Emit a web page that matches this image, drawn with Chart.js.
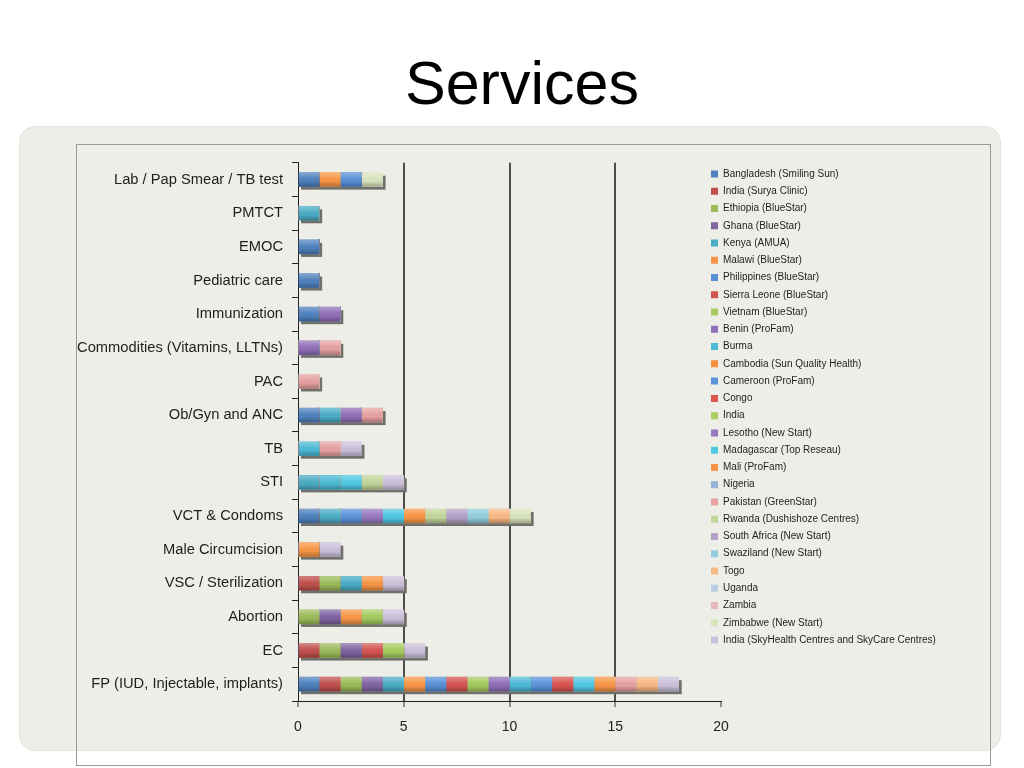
<!DOCTYPE html>
<html>
<head>
<meta charset="utf-8">
<script src="https://cdn.jsdelivr.net/npm/chart.js@4"></script>
<style>
  html, body { margin: 0; padding: 0; background: #ffffff; }
  body { width: 1024px; height: 768px; position: relative; overflow: hidden; font-family: "Liberation Sans", Arial, sans-serif; }
  #title { position: absolute; left: 405px; top: 53px; font-size: 61px; line-height: 1; color: #000; white-space: nowrap; }
  #panel { position: absolute; left: 19px; top: 126px; width: 982px; height: 625px; box-sizing: border-box;
           border-radius: 16px; background: #EDEEE7; border: 1px solid #E3E5DC; }
  #frame { position: absolute; left: 76px; top: 144px; width: 915px; height: 622px; box-sizing: border-box;
           border: 1px solid #9A9A92; }
  #chart { position: absolute; left: 77px; top: 145px; }
</style>
</head>
<body>
<div id="title">Services</div>
<div id="panel"></div>
<div id="frame"></div>
<canvas id="chart" width="913" height="620" style="width:913px;height:620px"></canvas>
<script>
// Categories (top to bottom)
const categories = [
  "Lab / Pap Smear / TB test",
  "PMTCT",
  "EMOC",
  "Pediatric care",
  "Immunization",
  "Commodities (Vitamins, LLTNs)",
  "PAC",
  "Ob/Gyn and ANC",
  "TB",
  "STI",
  "VCT & Condoms",
  "Male Circumcision",
  "VSC / Sterilization",
  "Abortion",
  "EC",
  "FP (IUD, Injectable, implants)"
];

// Series (programs / countries)
const seriesNames = [
  "Bangladesh (Smiling Sun)",
  "India (Surya Clinic)",
  "Ethiopia (BlueStar)",
  "Ghana (BlueStar)",
  "Kenya (AMUA)",
  "Malawi (BlueStar)",
  "Philippines (BlueStar)",
  "Sierra Leone (BlueStar)",
  "Vietnam (BlueStar)",
  "Benin (ProFam)",
  "Burma",
  "Cambodia (Sun Quality Health)",
  "Cameroon (ProFam)",
  "Congo",
  "India",
  "Lesotho (New Start)",
  "Madagascar (Top Reseau)",
  "Mali (ProFam)",
  "Nigeria",
  "Pakistan (GreenStar)",
  "Rwanda (Dushishoze Centres)",
  "South Africa (New Start)",
  "Swaziland (New Start)",
  "Togo",
  "Uganda",
  "Zambia",
  "Zimbabwe (New Start)",
  "India (SkyHealth Centres and SkyCare Centres)"
];

// Values per series, one entry per category (same order as categories)
const seriesValues = [
  [1,0,1,1,1,0,0,1,0,0,1,0,0,0,0,1], // Bangladesh
  [0,0,0,0,0,0,0,0,0,0,0,0,1,0,1,1], // India (Surya)
  [0,0,0,0,0,0,0,0,0,0,0,0,1,1,1,1], // Ethiopia
  [0,0,0,0,0,0,0,0,0,0,0,0,0,1,1,1], // Ghana
  [0,1,0,0,0,0,0,1,0,1,1,0,1,0,0,1], // Kenya
  [1,0,0,0,0,0,0,0,0,0,0,1,1,1,0,1], // Malawi
  [1,0,0,0,0,0,0,0,0,0,0,0,0,0,0,1], // Philippines
  [0,0,0,0,0,0,0,0,0,0,0,0,0,0,1,1], // Sierra Leone
  [0,0,0,0,0,0,0,0,0,0,0,0,0,1,1,1], // Vietnam
  [0,0,0,0,1,1,0,1,0,0,0,0,0,0,0,1], // Benin
  [0,0,0,0,0,0,0,0,1,1,0,0,0,0,0,1], // Burma
  [0,0,0,0,0,0,0,0,0,0,0,0,0,0,0,0], // Cambodia
  [0,0,0,0,0,0,0,0,0,0,1,0,0,0,0,1], // Cameroon
  [0,0,0,0,0,0,0,0,0,0,0,0,0,0,0,1], // Congo
  [0,0,0,0,0,0,0,0,0,0,0,0,0,0,0,0], // India
  [0,0,0,0,0,0,0,0,0,0,1,0,0,0,0,0], // Lesotho
  [0,0,0,0,0,0,0,0,0,1,1,0,0,0,0,1], // Madagascar
  [0,0,0,0,0,0,0,0,0,0,1,0,0,0,0,1], // Mali
  [0,0,0,0,0,0,0,0,0,0,0,0,0,0,0,0], // Nigeria
  [0,0,0,0,0,1,1,1,1,0,0,0,0,0,0,1], // Pakistan
  [0,0,0,0,0,0,0,0,0,1,1,0,0,0,0,0], // Rwanda
  [0,0,0,0,0,0,0,0,0,0,1,0,0,0,0,0], // South Africa
  [0,0,0,0,0,0,0,0,0,0,1,0,0,0,0,0], // Swaziland
  [0,0,0,0,0,0,0,0,0,0,1,0,0,0,0,1], // Togo
  [0,0,0,0,0,0,0,0,0,0,0,0,0,0,0,0], // Uganda
  [0,0,0,0,0,0,0,0,0,0,0,0,0,0,0,0], // Zambia
  [1,0,0,0,0,0,0,0,0,0,1,0,0,0,0,0], // Zimbabwe
  [0,0,0,0,0,0,0,0,1,1,0,1,1,1,1,1]  // India (SkyHealth)
];

// X-axis tick values
const xTicks = [0, 5, 10, 15, 20];

const seriesColors = [
  "#4F81BD","#C0504D","#9BBB59","#8064A2","#4BACC6","#F79646",
  "#5790D6","#D45451","#A5CB60","#916FB8","#4DBAD6","#F78F3E",
  "#5A94DA","#DA5450","#A8D060","#9878C0","#52C8E2","#F79646",
  "#95B3D7","#E6A1A0","#C3D69B","#B3A2C7","#93CDDD","#F8B883",
  "#B9CDE5","#E6B9B8","#D7E4BD","#CCC1DA"
];

const datasets = seriesNames.map((name, i) => ({
  label: name,
  data: seriesValues[i],
  backgroundColor: seriesColors[i],
  borderWidth: 0,
  barThickness: 14,
  stack: "s"
}));

const barShadow = {
  id: "barShadow",
  beforeDatasetsDraw(chart) {
    const ctx = chart.ctx;
    const xs = chart.scales.x, ys = chart.scales.y;
    ctx.save();
    ctx.fillStyle = "#6F6F6B";
    categories.forEach((c, ci) => {
      let total = 0;
      seriesValues.forEach(row => { total += row[ci]; });
      if (total <= 0) return;
      const x0 = xs.getPixelForValue(0);
      const x1 = xs.getPixelForValue(total);
      const y = ys.getPixelForValue(ci);
      ctx.fillRect(x0 + 3, y - 7 + 3, x1 - x0, 14);
    });
    ctx.restore();
  }
};

const barShade = {
  id: "barShade",
  afterDatasetsDraw(chart) {
    const ctx = chart.ctx;
    ctx.save();
    chart.data.datasets.forEach((ds, di) => {
      const meta = chart.getDatasetMeta(di);
      meta.data.forEach((el, idx) => {
        if (!ds.data[idx]) return;
        const p = el.getProps(["x", "y", "base", "height"], true);
        const top = p.y - p.height / 2, bot = p.y + p.height / 2;
        const g = ctx.createLinearGradient(0, top, 0, bot);
        g.addColorStop(0, "rgba(255,255,255,0.30)");
        g.addColorStop(0.35, "rgba(255,255,255,0.08)");
        g.addColorStop(0.6, "rgba(0,0,0,0)");
        g.addColorStop(1, "rgba(0,0,0,0.28)");
        ctx.fillStyle = g;
        const l = Math.min(p.base, p.x), r = Math.max(p.base, p.x);
        ctx.fillRect(l, top, r - l, p.height);
      });
    });
    ctx.restore();
  }
};

const legendPlace = {
  id: "legendPlace",
  afterLayout(chart) {
    const lg = chart.legend;
    if (!lg) return;
    const pad = lg.options.labels.padding;
    const h = lg.bottom - lg.top;
    const w = 270;
    lg.left = 634 - pad; lg.right = lg.left + w; lg.width = w;
    lg.top = 24 - pad; lg.bottom = lg.top + h;
  }
};

new Chart(document.getElementById("chart"), {
  type: "bar",
  data: { labels: categories, datasets },
  plugins: [barShadow, barShade, legendPlace],
  options: {
    indexAxis: "y",
    responsive: false,
    animation: false,
    layout: { padding: { top: 12, right: 268, bottom: 0, left: 0 } },
    plugins: {
      title: { display: false },
      tooltip: { enabled: false },
      legend: {
        position: "right",
        align: "start",
        maxWidth: 1,
        labels: {
          boxWidth: 7,
          boxHeight: 7,
          padding: 7.26,
          color: "#1E1E1E",
          font: { family: "'Liberation Sans', Arial, sans-serif", size: 10 }
        }
      }
    },
    scales: {
      x: {
        stacked: true,
        min: 0,
        max: 20,
        afterBuildTicks(scale) { scale.ticks = xTicks.map(v => ({ value: v })); },
        afterFit(scale) { scale.height = 64; },
        ticks: {
          color: "#222",
          padding: 12,
          font: { family: "'Liberation Sans', Arial, sans-serif", size: 14 }
        },
        grid: {
          color: (c) => (c.tick && [5, 10, 15].includes(c.tick.value)) ? "#4D4D49" : "rgba(0,0,0,0)",
          lineWidth: 2,
          tickColor: "#333",
          tickWidth: 1,
          tickLength: 6
        },
        border: { color: "#222", width: 1 }
      },
      y: {
        stacked: true,
        afterFit(scale) { scale.width = 221; },
        ticks: {
          color: "#1E1E1E",
          padding: 9,
          font: { family: "'Liberation Sans', Arial, sans-serif", size: 14.7 }
        },
        grid: {
          drawOnChartArea: false,
          tickColor: "#222",
          tickLength: 6
        },
        border: { color: "#222", width: 1 }
      }
    }
  }
});
</script>
</body>
</html>
